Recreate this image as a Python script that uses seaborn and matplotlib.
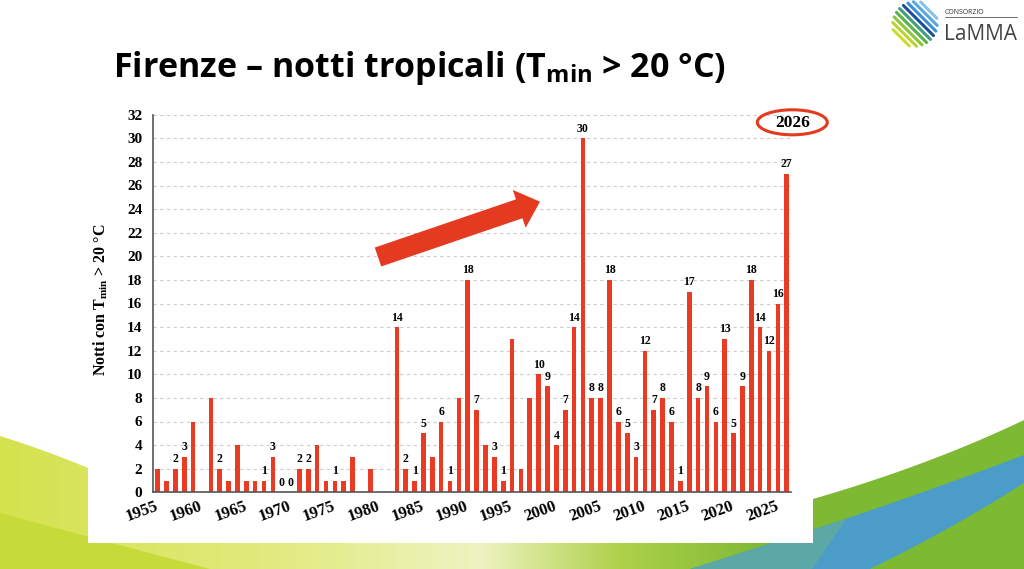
import numpy as np
import pandas as pd
import matplotlib
matplotlib.use("Agg")
import matplotlib.pyplot as plt
import seaborn as sns
from matplotlib.patches import Polygon, Ellipse, FancyArrow

sns.set_style("white")
plt.rcParams['font.family'] = ['Liberation Serif', 'DejaVu Serif']
plt.rcParams['mathtext.fontset'] = 'custom'
plt.rcParams['mathtext.bf'] = 'Liberation Serif:bold'
plt.rcParams['mathtext.sf'] = 'Open Sans:bold'
plt.rcParams['text.color'] = 'black'
plt.rcParams['axes.labelcolor'] = 'black'
plt.rcParams['xtick.color'] = 'black'
plt.rcParams['ytick.color'] = 'black'

nan = np.nan

# dati: notti tropicali a Firenze (Tmin > 20 °C)
anni = list(range(1955, 2027))
notti = [2, 1, 2, 3, 6, nan, 8, 2, 1, 4, 1, 1, 1, 3, 0, 0, 2, 2, 4, 1, 1, 1, 3,
         nan, 2, nan, nan,
         14, 2, 1, 5, 3, 6, 1, 8, 18, 7, 4, 3, 1, 13, 2, 8,
         10, 9, 4, 7, 14, 30, 8, 8, 18, 6, 5, 3, 12, 7, 8, 6, 1, 17, 8, 9, 6,
         13, 5, 9, 18, 14, 12, 16, 27]
# anni con etichetta del valore sopra la barra
anni_etichetta = [1957, 1958, 1962, 1967, 1968, 1969, 1970, 1971, 1972, 1975,
                  1982, 1983, 1984, 1985, 1987, 1988, 1990, 1991, 1993, 1994] + list(range(1998, 2027))
anni_tick = list(range(1955, 2026, 5))
y_ticks = list(range(0, 33, 2))

titolo = r'Firenze – notti tropicali ($\mathsf{T_{min}}$ > 20 °C)'
etichetta_y = r'Notti con $\mathbf{T_{min}}$ > 20 °C'
anno_evidenziato = '2026'

ROSSO = '#E93A24'
W, H = 1024, 569

dati = pd.DataFrame({'anno': anni, 'notti': notti})

fig = plt.figure(figsize=(W / 100, H / 100), dpi=100)
fig.patch.set_facecolor('white')


def bezier(p0, p1, p2, n=40):
    t = np.linspace(0, 1, n)[:, None]
    p0, p1, p2 = map(np.array, (p0, p1, p2))
    return (1 - t) ** 2 * p0 + 2 * (1 - t) * t * p1 + t ** 2 * p2


# sfondo decorativo (coordinate in pixel)
bg = fig.add_axes([0, 0, 1, 1], zorder=0)
bg.set_xlim(0, W)
bg.set_ylim(H, 0)
bg.axis('off')

stops = [(0, '#d4e24e'), (280, '#e2eb80'), (480, '#eef3c2'), (620, '#aed14a'),
         (760, '#80b935'), (1024, '#7db933')]
xs = np.arange(W)
cols = np.array([matplotlib.colors.to_rgb(c) for _, c in stops])
grad = np.stack([np.interp(xs, [s for s, _ in stops], cols[:, k]) for k in range(3)], axis=-1)
bg.imshow(grad[None, :, :], extent=(0, W, H, 400), aspect='auto', zorder=1)

left_top = bezier((0, 436), (45, 450), (88, 468))
right_top = bezier((813, 499), (930, 465), (1024, 420))
white_pts = np.vstack([[[0, 390]], left_top, [[88, 543], [813, 543]], right_top, [[1024, 390]]])
bg.add_patch(Polygon(white_pts, closed=True, facecolor='white', edgecolor='none', zorder=2))

dark_lime = np.vstack([bezier((0, 513), (100, 540), (210, 569)), [[0, 569]]])
bg.add_patch(Polygon(dark_lime, closed=True, facecolor='#c6da3a', edgecolor='none', zorder=1.5))

blue_top = bezier((690, 569), (880, 510), (1024, 455))
blue_bot = bezier((1024, 483), (950, 530), (870, 569))
bg.add_patch(Polygon(np.vstack([blue_top, blue_bot]), closed=True,
                     facecolor='#4b9cc8', edgecolor='none', zorder=1.6))
bg.add_patch(Polygon(np.vstack([blue_top[:18], [[812, 569]]]), closed=True,
                     facecolor='#5ba8a6', edgecolor='none', zorder=1.7))

# grafico
ax = fig.add_axes([153.3 / W, (H - 492.3) / H, 637.8 / W, 377.6 / H], zorder=1)
ax.patch.set_alpha(0)
sns.barplot(data=dati, x='anno', y='notti', order=anni, color=ROSSO,
            width=0.52, errorbar=None, saturation=1, linewidth=0, ax=ax)

for i, (a, v) in enumerate(zip(anni, notti)):
    if a in anni_etichetta and not np.isnan(v):
        ax.text(i, v + 0.3, str(int(v)), ha='center', va='bottom',
                fontsize=8.5, fontweight='bold', color='black')

ax.set_xlim(-0.5, len(anni) - 0.5)
ax.set_ylim(0, 32)
ax.set_yticks(y_ticks)
ax.set_yticklabels([str(v) for v in y_ticks], fontsize=11, fontweight='bold')
ax.set_xticks(np.arange(-0.5, len(anni), 1))
ax.set_xticklabels([])
ax.set_xticks([anni.index(a) for a in anni_tick], [str(a) for a in anni_tick], minor=True)
ax.tick_params(axis='x', which='major', length=5, width=1, color='#555555', direction='out')
ax.tick_params(axis='x', which='minor', length=0, pad=10)
ax.tick_params(axis='y', length=5, width=1, color='#555555', direction='out', pad=3)
for lab in ax.get_xticklabels(minor=True):
    lab.set_rotation(20)
    lab.set_ha('right')
    lab.set_va('center')
    lab.set_rotation_mode('anchor')
    lab.set_fontsize(12)
    lab.set_fontweight('bold')

ax.grid(axis='y', color='#cccccc', linestyle=(0, (3, 3)), linewidth=0.8)
ax.set_axisbelow(True)
for s in ['top', 'right']:
    ax.spines[s].set_visible(False)
for s in ['left', 'bottom']:
    ax.spines[s].set_color('#555555')
    ax.spines[s].set_linewidth(1.2)

ax.set_xlabel('')
ax.set_ylabel(etichetta_y, fontsize=11.5, fontweight='bold', color='black')
ax.yaxis.set_label_coords((110 - 153.3) / 637.8, 0.51)

# freccia, ellisse, titolo, logo (coordinate in pixel)
fg = fig.add_axes([0, 0, 1, 1], zorder=2)
fg.set_xlim(0, W)
fg.set_ylim(H, 0)
fg.axis('off')
fg.patch.set_alpha(0)

fg.add_patch(FancyArrow(378, 257, 162, -55.3, width=20, head_width=40, head_length=22,
                        length_includes_head=True, color='#E43A20', lw=0))
fg.add_patch(Ellipse((792.3, 122.3), 70, 25, facecolor='none', edgecolor='#E43A20', lw=2.2))
fg.text(792.3, 123, anno_evidenziato, ha='center', va='center', fontsize=12.5,
        fontweight='bold', color='black')

fg.text(113, 77, titolo, ha='left', va='baseline', fontsize=24.5, fontweight='bold',
        color='black', family=['Open Sans', 'DejaVu Sans'])

# logo LaMMA
cx, cy, R = 915, 24, 23
logo_cols = ['#c9dc2c', '#b6d432', '#8cc43c', '#5cb24a', '#3fa078', '#1f4e9c', '#3b8fd3', '#5aa8e0', '#84c3ea']
for k, d in enumerate(np.linspace(-R * 0.85, R * 0.85, len(logo_cols))):
    half = np.sqrt(R ** 2 - d ** 2) * 0.95
    px, py = cx + d / np.sqrt(2), cy - d / np.sqrt(2)
    ux, uy = 1 / np.sqrt(2), 1 / np.sqrt(2)
    fg.plot([px - half * ux, px + half * ux], [py - half * uy, py + half * uy],
            color=logo_cols[k], lw=2.2, solid_capstyle='round')
fg.text(945, 14, 'CONSORZIO', fontsize=5, color='#333333', family=['Open Sans', 'DejaVu Sans'], va='baseline')
fg.plot([945, 1017], [17, 17], color='#555555', lw=0.6)
fg.text(944, 40, 'LaMMA', fontsize=15, color='#444444', family=['Open Sans', 'DejaVu Sans'], va='baseline')

fig.savefig('out.png', dpi=100)
